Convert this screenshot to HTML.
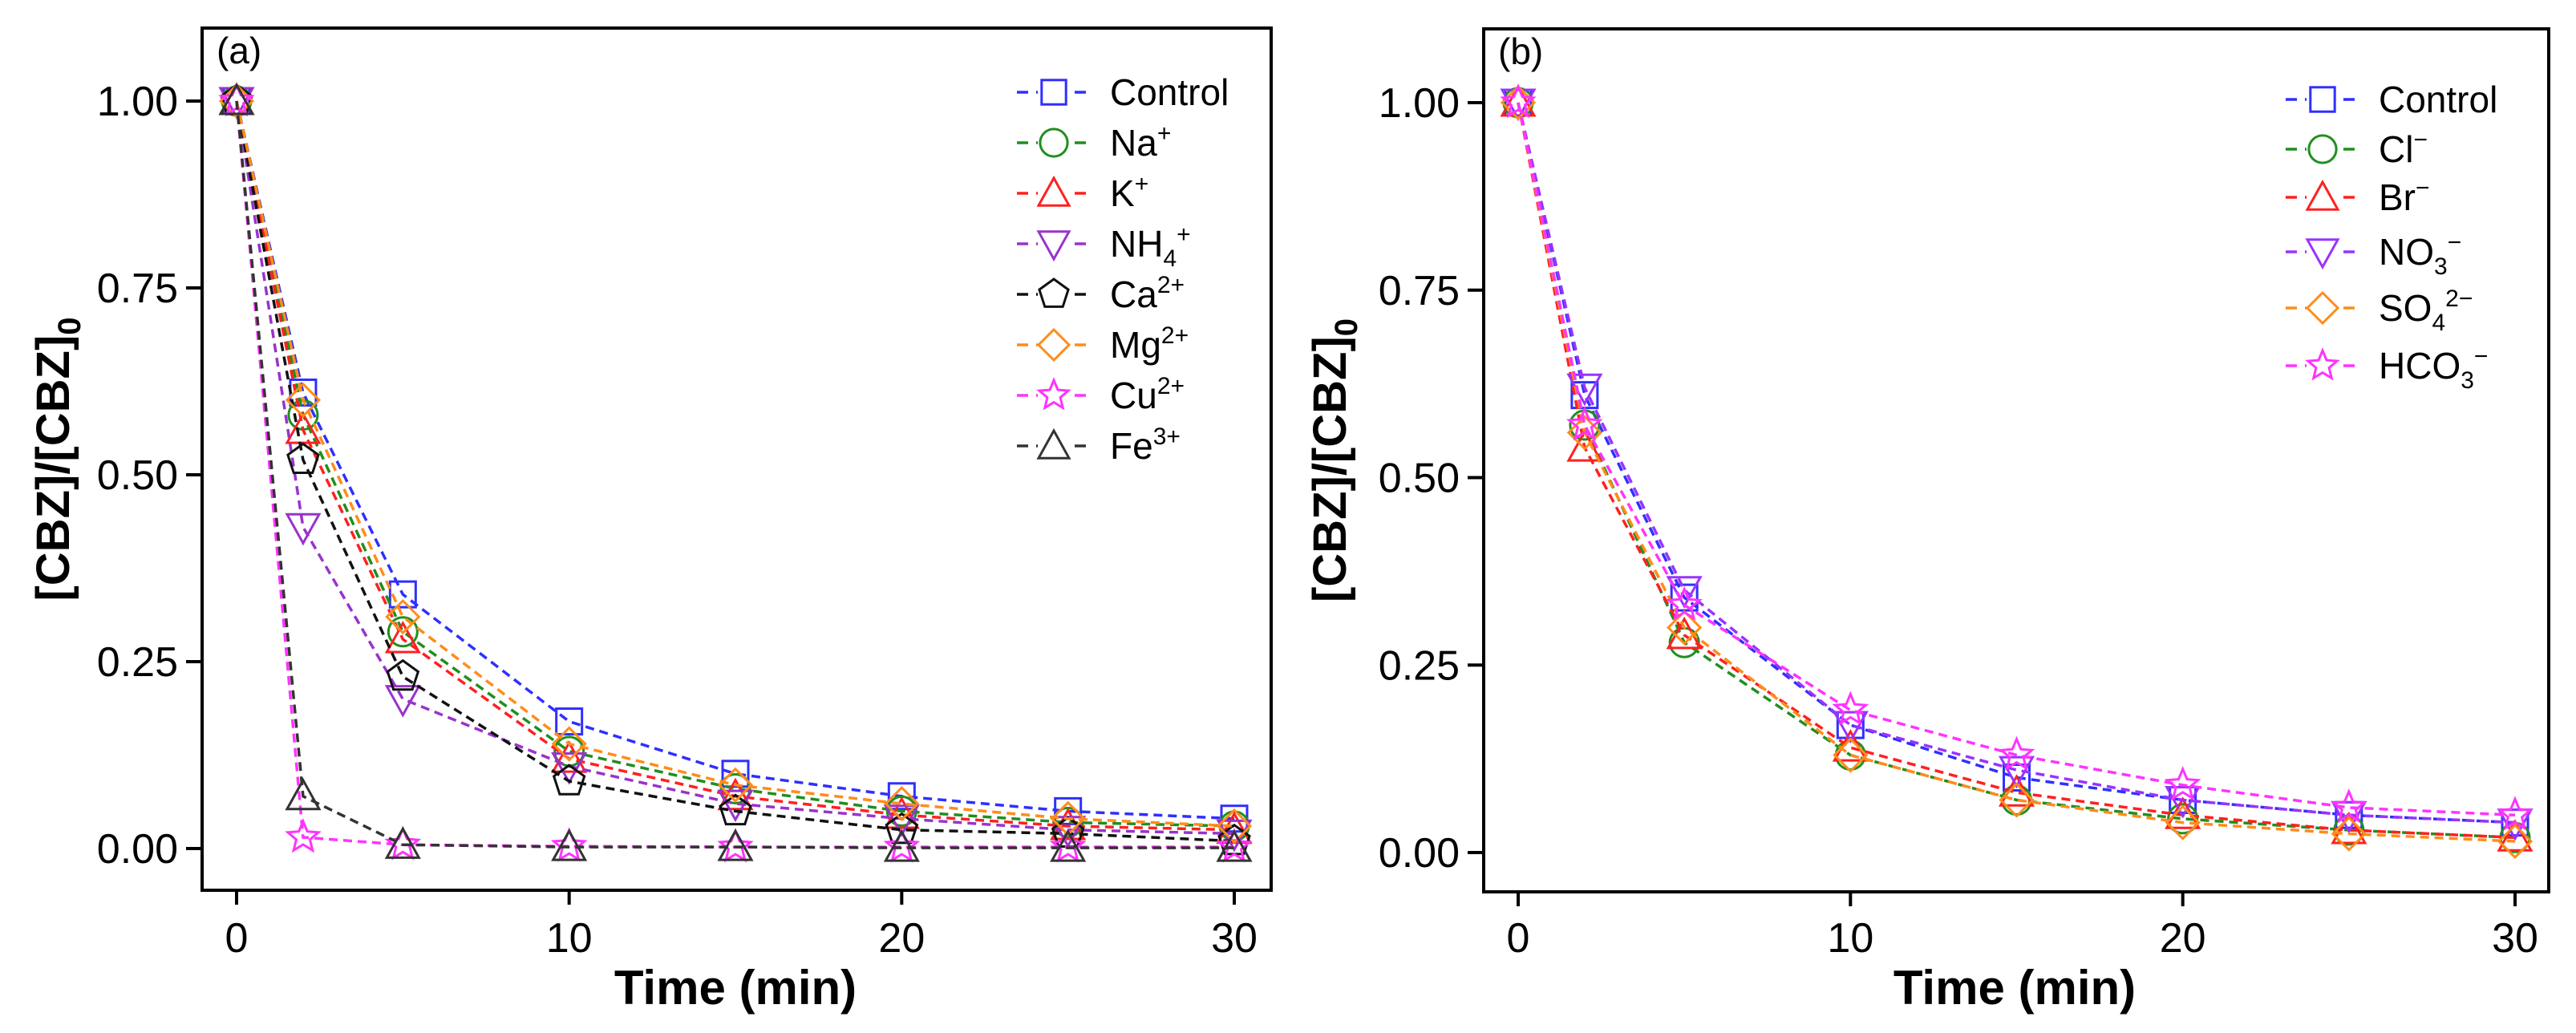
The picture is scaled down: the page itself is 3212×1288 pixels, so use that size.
<!DOCTYPE html>
<html><head><meta charset="utf-8"><style>
html,body{margin:0;padding:0;background:#fff;overflow:hidden;}
svg{display:block;font-family:"Liberation Sans",Arial,sans-serif;}
</style></head><body>
<svg id="fig" width="3212" height="1288" viewBox="0 0 3212 1288" xmlns="http://www.w3.org/2000/svg"></svg>
<script>
const times = [0, 2, 5, 10, 15, 20, 25, 30];
const yTicks = [0, 0.25, 0.5, 0.75, 1.0];
const yTickLabels = ["0.00", "0.25", "0.50", "0.75", "1.00"];
const xTicks = [0, 10, 20, 30];
const xTickLabels = ["0", "10", "20", "30"];

const aNames = ["Control", "Na", "K", "NH4", "Ca", "Mg", "Cu", "Fe"];
const aControl = [1, 0.61, 0.34, 0.17, 0.10, 0.07, 0.05, 0.04];
const aNa = [1, 0.58, 0.29, 0.13, 0.08, 0.05, 0.035, 0.03];
const aK = [1, 0.56, 0.28, 0.12, 0.07, 0.045, 0.03, 0.025];
const aNH4 = [1, 0.43, 0.20, 0.11, 0.06, 0.04, 0.025, 0.02];
const aCa = [1, 0.52, 0.23, 0.09, 0.05, 0.025, 0.02, 0.01];
const aMg = [1, 0.60, 0.31, 0.14, 0.085, 0.06, 0.04, 0.03];
const aCu = [1, 0.015, 0.005, 0.003, 0.002, 0.002, 0.002, 0.002];
const aFe = [1, 0.07, 0.005, 0.002, 0.002, 0.001, 0.001, 0.001];

const bNames = ["Control", "Cl", "Br", "NO3", "SO4", "HCO3"];
const bControl = [1, 0.61, 0.34, 0.17, 0.10, 0.07, 0.05, 0.04];
const bCl = [1, 0.57, 0.28, 0.13, 0.07, 0.045, 0.03, 0.02];
const bBr = [1, 0.54, 0.29, 0.14, 0.08, 0.05, 0.03, 0.02];
const bNO3 = [1, 0.62, 0.35, 0.17, 0.11, 0.07, 0.05, 0.04];
const bSO4 = [1, 0.56, 0.30, 0.13, 0.07, 0.04, 0.025, 0.015];
const bHCO3 = [1, 0.57, 0.33, 0.19, 0.13, 0.09, 0.06, 0.05];

const NS = "http://www.w3.org/2000/svg";
const svg = document.getElementById('fig');
function mk(tag, attrs, parent){
  const e = document.createElementNS(NS, tag);
  for (const k in attrs) e.setAttribute(k, attrs[k]);
  (parent||svg).appendChild(e);
  return e;
}
function marker(g, shape, cx, cy, color, r){
  let e;
  if (shape==='square') e = mk('rect',{x:cx-r*0.8,y:cy-r*0.8,width:r*1.6,height:r*1.6},g);
  else if (shape==='circle') e = mk('circle',{cx:cx,cy:cy,r:r*0.9},g);
  else if (shape==='up') e = mk('polygon',{points:`${cx},${cy-r} ${cx+r},${cy+r*0.8} ${cx-r},${cy+r*0.8}`},g);
  else if (shape==='down') e = mk('polygon',{points:`${cx},${cy+r} ${cx+r},${cy-r*0.8} ${cx-r},${cy-r*0.8}`},g);
  else if (shape==='diamond') e = mk('polygon',{points:`${cx},${cy-r} ${cx+r},${cy} ${cx},${cy+r} ${cx-r},${cy}`},g);
  else if (shape==='pent'){
    let p=[];for(let i=0;i<5;i++){const a=-Math.PI/2+i*2*Math.PI/5;p.push((cx+r*Math.cos(a)).toFixed(1)+','+(cy+r*Math.sin(a)).toFixed(1));}
    e = mk('polygon',{points:p.join(' ')},g);
  } else if (shape==='star'){
    let p=[];for(let i=0;i<10;i++){const a=-Math.PI/2+i*Math.PI/5;const rr=i%2?r*0.45:r;p.push((cx+rr*Math.cos(a)).toFixed(1)+','+(cy+rr*Math.sin(a)).toFixed(1));}
    e = mk('polygon',{points:p.join(' ')},g);
  }
  e.setAttribute('fill','none');e.setAttribute('stroke',color);e.setAttribute('stroke-width','3');
  
  
  return e;
}
function panel(cfg){
  const sx = t => cfg.x0 + (t-0)/(30-0)*(cfg.x30-cfg.x0);
  const sy = v => cfg.y0 + v*(cfg.y1-cfg.y0);
  const g = mk('g',{});
  
  
  const fr = mk('rect',{x:cfg.L,y:cfg.T,width:cfg.R-cfg.L,height:cfg.B-cfg.T,fill:'none',stroke:'#000','stroke-width':4},g);
  
  
  yTicks.forEach((v,i)=>{
    const y=sy(v);
    mk('line',{x1:cfg.L-20,x2:cfg.L,y1:y,y2:y,stroke:'#000','stroke-width':4},g);
    const t=mk('text',{x:cfg.L-30,y:y+18,'text-anchor':'end','font-size':52,fill:'#000'},g);
    t.textContent=yTickLabels[i];
    
    
  });
  xTicks.forEach((v,i)=>{
    const x=sx(v);
    mk('line',{x1:x,x2:x,y1:cfg.B,y2:cfg.B+18,stroke:'#000','stroke-width':4},g);
    const t=mk('text',{x:x,y:1187,'text-anchor':'middle','font-size':52,fill:'#000'},g);
    t.textContent=xTickLabels[i];
    
    
  });
  const xt=mk('text',{x:cfg.xtX,y:1252,'text-anchor':'middle','font-size':60,'font-weight':'bold',fill:'#000'},g);
  xt.textContent='Time (min)';
  
  
  const yt=mk('text',{x:0,y:0,'text-anchor':'middle','font-size':58,'font-weight':'bold',fill:'#000',transform:`translate(${cfg.ytX},${(cfg.T+cfg.B)/2}) rotate(-90)`},g);
  yt.innerHTML='[CBZ]/[CBZ]<tspan font-size="40" dy="14">0</tspan>';
  
  
  const pl=mk('text',{x:cfg.L+18,y:cfg.T+44,'font-size':46,fill:'#000'},g);
  pl.textContent=cfg.label;
  
  
  cfg.series.forEach((s,si)=>{
    const sg=mk('g',{},g);
    
    
    const pts=times.map((t,i)=>sx(t).toFixed(1)+','+sy(s.data[i]).toFixed(1)).join(' ');
    const ln=mk('polyline',{points:pts,fill:'none',stroke:s.color,'stroke-width':3.5,'stroke-dasharray':'11 7'},sg);
    
    
    times.forEach((t,i)=>marker(sg,s.shape,sx(t),sy(s.data[i]),s.color,20));
    const ly=cfg.legY[si];
    const lg=mk('g',{},g);
    
    
    mk('line',{x1:cfg.legX,x2:cfg.legX+92,y1:ly,y2:ly,stroke:s.color,'stroke-width':3.5,'stroke-dasharray':'14 10'},lg);
    mk('rect',{x:cfg.legX+26,y:ly-21,width:40,height:42,fill:'#fff'},lg);
    marker(lg,s.shape,cfg.legX+46,ly,s.color,19);
    const lt=mk('text',{x:cfg.legX+116,y:ly+16,'font-size':46,fill:'#000'},lg);
    lt.innerHTML=s.label;
  });
}
const SUP = (t)=>`<tspan font-size="30" dy="-18">${t}</tspan>`;
const SUBSUP = (a,b)=>`<tspan font-size="30" dy="12">${a}</tspan><tspan font-size="30" dy="-30">${b}</tspan>`;
panel({name:'panel-a',label:'(a)',L:252,R:1585,T:35,B:1110,x0:295,x30:1539,y0:1058,y1:126,legX:1268,xtX:917,ytX:86,
  legY:[115,178,241,304,367,430,493,556],
  series:[
    {key:aNames[0],data:aControl,color:'#2f2fff',shape:'square',label:'Control'},
    {key:aNames[1],data:aNa,color:'#1f8f1f',shape:'circle',label:'Na'+SUP('+')},
    {key:aNames[2],data:aK,color:'#ff2020',shape:'up',label:'K'+SUP('+')},
    {key:aNames[3],data:aNH4,color:'#9933cc',shape:'down',label:'NH'+SUBSUP('4','+')},
    {key:aNames[4],data:aCa,color:'#111111',shape:'pent',label:'Ca'+SUP('2+')},
    {key:aNames[5],data:aMg,color:'#ff8c1a',shape:'diamond',label:'Mg'+SUP('2+')},
    {key:aNames[6],data:aCu,color:'#ff33ff',shape:'star',label:'Cu'+SUP('2+')},
    {key:aNames[7],data:aFe,color:'#333333',shape:'up',label:'Fe'+SUP('3+')}
  ]});
panel({name:'panel-b',label:'(b)',L:1850,R:3178,T:36,B:1112,x0:1893,x30:3136,y0:1063,y1:128,legX:2850,xtX:2512,ytX:1678,
  legY:[124,186,246,314,384,456],
  series:[
    {key:bNames[0],data:bControl,color:'#2f2fff',shape:'square',label:'Control'},
    {key:bNames[1],data:bCl,color:'#1f8f1f',shape:'circle',label:'Cl'+SUP('−')},
    {key:bNames[2],data:bBr,color:'#ff2020',shape:'up',label:'Br'+SUP('−')},
    {key:bNames[3],data:bNO3,color:'#9933ff',shape:'down',label:'NO'+SUBSUP('3','−')},
    {key:bNames[4],data:bSO4,color:'#ff8c1a',shape:'diamond',label:'SO'+SUBSUP('4','2−')},
    {key:bNames[5],data:bHCO3,color:'#ff33ff',shape:'star',label:'HCO'+SUBSUP('3','−')}
  ]});
</script>
</body></html>
